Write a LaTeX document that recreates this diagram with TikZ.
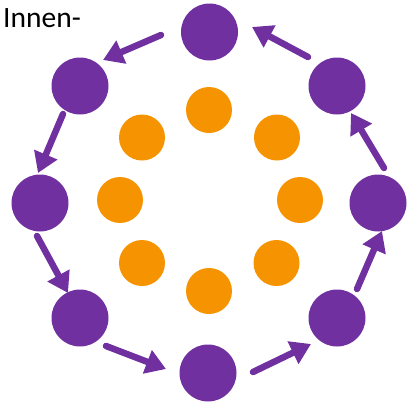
\documentclass[tikz,border=0pt]{standalone}
\usepackage{fontspec}
\setmainfont{Carlito}
\usetikzlibrary{arrows.meta}
\definecolor{violet}{HTML}{7030A0}
\definecolor{orng}{HTML}{F59300}
\begin{document}
\begin{tikzpicture}[x=1pt,y=-1pt,
  outer/.style={circle,fill=violet,minimum size=57pt,inner sep=0pt},
  inner/.style={circle,fill=orng,minimum size=46pt,inner sep=0pt},
  flow/.style={draw=violet,line width=6.5pt,line cap=round,-{Triangle[length=20pt,width=24pt]}}]
\useasboundingbox (0,0) rectangle (408,405);
\node[anchor=north west,inner sep=0pt,font=\fontsize{29.5}{32}\selectfont] (label) at (3,8) {Innen-};
% outer purple circles
\node[outer] (T)  at (209.5,32) {};
\node[outer] (UL) at (80,86) {};
\node[outer] (L)  at (40,203) {};
\node[outer] (LL) at (80,318) {};
\node[outer] (B)  at (208,373) {};
\node[outer] (LR) at (337,318) {};
\node[outer] (R)  at (378,203) {};
\node[outer] (UR) at (337,86) {};
% inner orange circles
\node[inner] (iT)  at (209,110) {};
\node[inner] (iUL) at (142,137.5) {};
\node[inner] (iL)  at (120,200) {};
\node[inner] (iLL) at (142,263) {};
\node[inner] (iB)  at (209,291) {};
\node[inner] (iLR) at (276.5,263) {};
\node[inner] (iR)  at (300,200) {};
\node[inner] (iUR) at (277,137.5) {};
% arrow end points
\coordinate (a1s) at (161,35);  \coordinate (a1e) at (103,60);
\coordinate (a2s) at (63,114);  \coordinate (a2e) at (38,173);
\coordinate (a3s) at (37,236);  \coordinate (a3e) at (68,293);
\coordinate (a4s) at (106,346); \coordinate (a4e) at (166,369);
\coordinate (a5s) at (253,372); \coordinate (a5e) at (311,344);
\coordinate (a6s) at (357,289); \coordinate (a6e) at (382,231);
\coordinate (a7s) at (384,168); \coordinate (a7e) at (351,113);
\coordinate (a8s) at (308,57);  \coordinate (a8e) at (252,27);
\draw[flow] (a1s) -- (a1e);
\draw[flow] (a2s) -- (a2e);
\draw[flow] (a3s) -- (a3e);
\draw[flow] (a4s) -- (a4e);
\draw[flow] (a5s) -- (a5e);
\draw[flow] (a6s) -- (a6e);
\draw[flow] (a7s) -- (a7e);
\draw[flow] (a8s) -- (a8e);
\end{tikzpicture}
\end{document}
